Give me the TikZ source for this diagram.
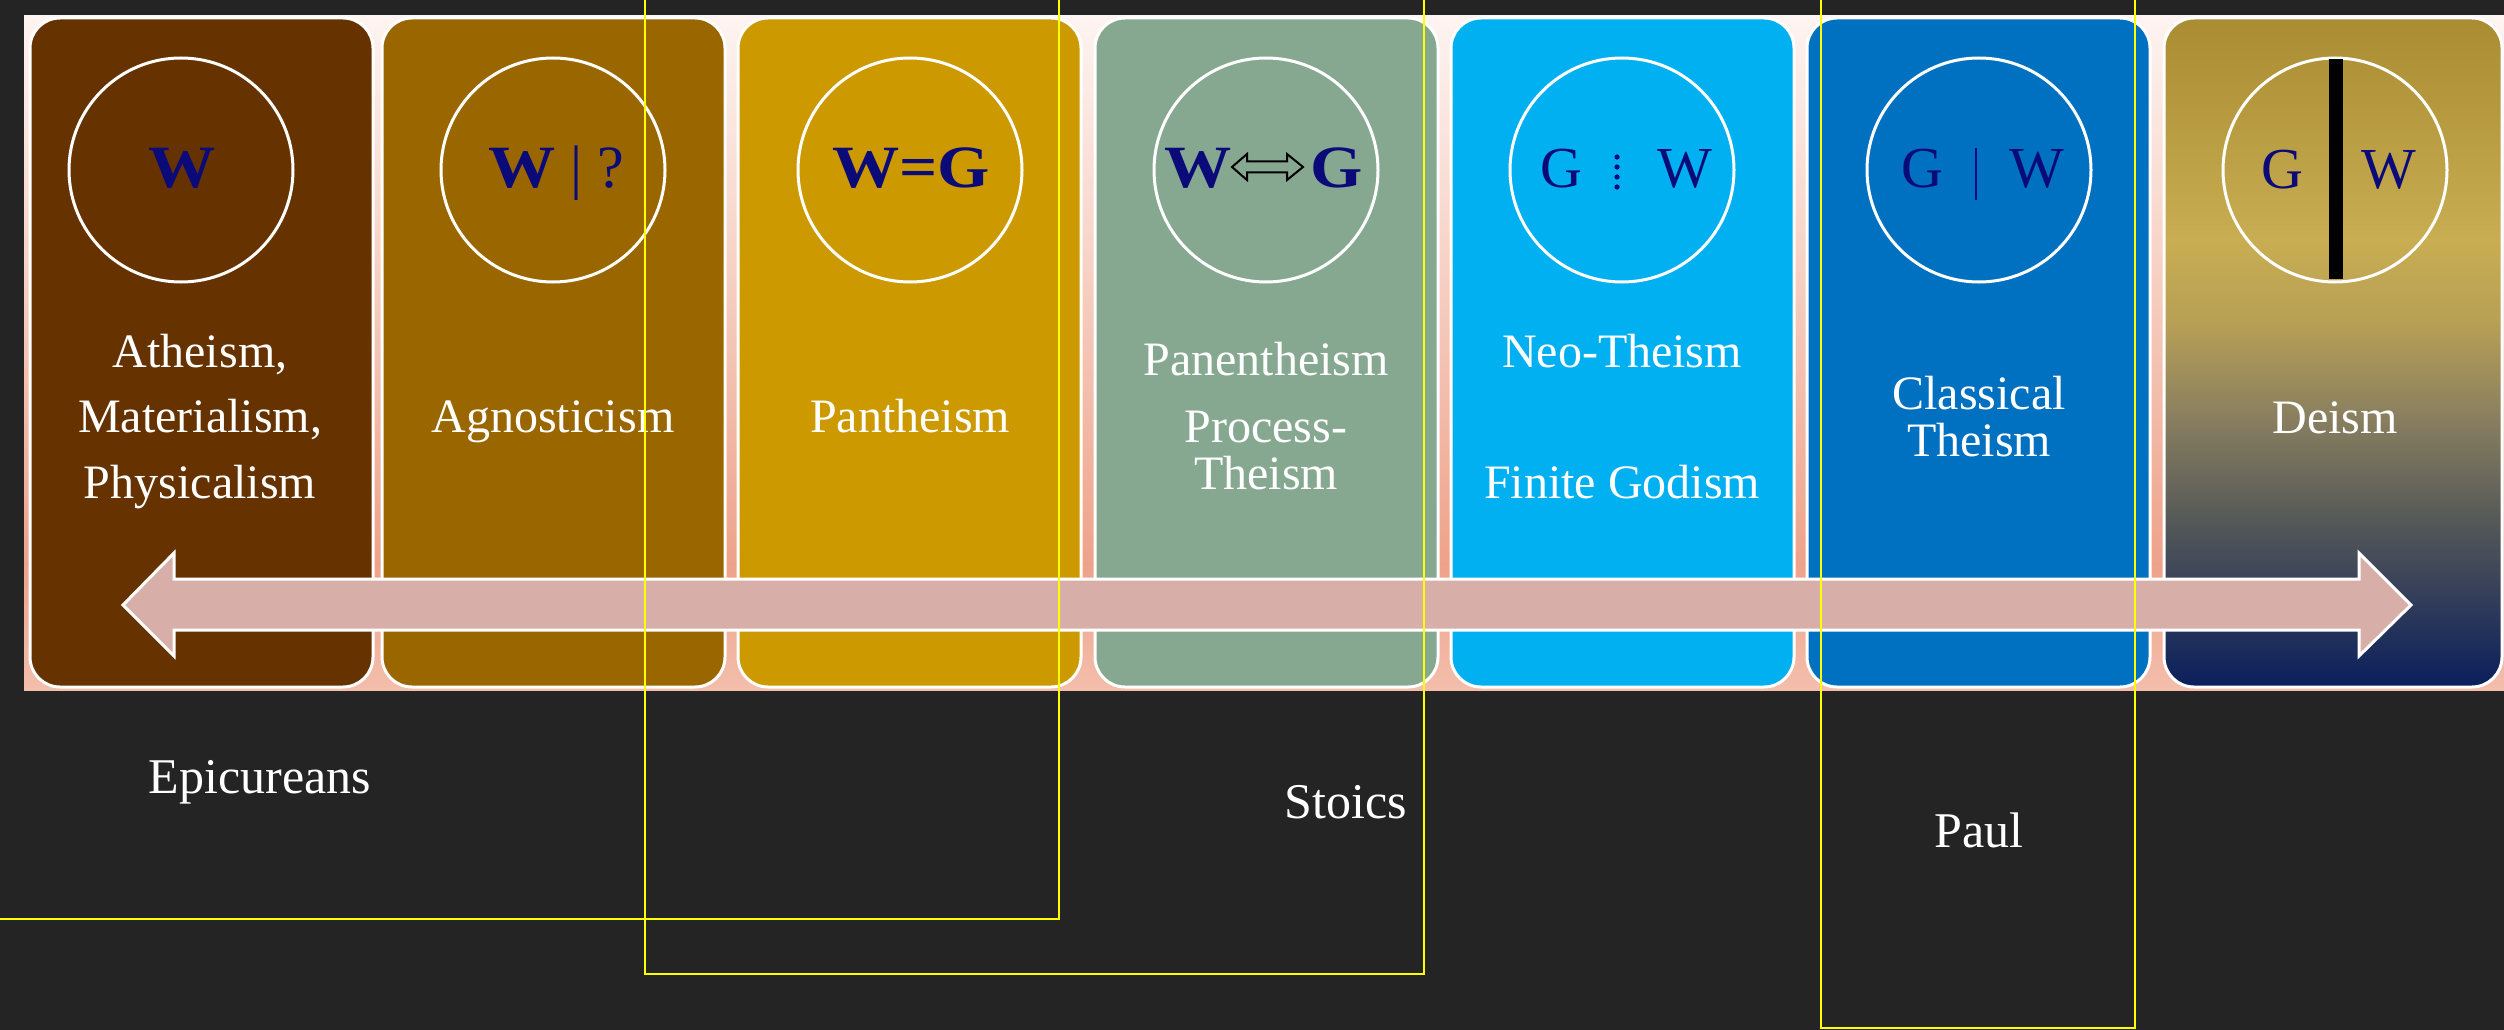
\documentclass[tikz,border=0pt]{standalone}
\usepackage{fontspec}
\setmainfont{Liberation Serif}
% palette
\definecolor{bgdark}{RGB}{36,36,36}
\definecolor{cAth}{RGB}{102,51,0}
\definecolor{cAgn}{RGB}{153,102,0}
\definecolor{cPan}{RGB}{204,153,0}
\definecolor{cPen}{RGB}{134,168,144}
\definecolor{cNeo}{RGB}{0,176,240}
\definecolor{cCla}{RGB}{0,112,192}
\definecolor{navyink}{RGB}{10,10,120}
\definecolor{axisfill}{RGB}{216,175,168}
\definecolor{hlyellow}{RGB}{255,255,0}
\definecolor{bandA}{RGB}{254,244,241}
\definecolor{bandB}{RGB}{247,212,200}
\definecolor{bandC}{RGB}{238,162,138}
\definecolor{bandD}{RGB}{243,190,172}
\definecolor{dA}{RGB}{170,140,50}
\definecolor{dB}{RGB}{200,173,82}
\definecolor{dC}{RGB}{184,160,85}
\definecolor{dD}{RGB}{138,128,96}
\definecolor{dE}{RGB}{90,92,88}
\definecolor{dF}{RGB}{46,58,90}
\definecolor{dG}{RGB}{10,31,92}
% wide bold letter used inside the rings
\newcommand{\wideb}[1]{\scalebox{1.12}[1]{\bfseries #1}}
\begin{document}
\begin{tikzpicture}[x=1pt,y=-1pt,
  box/.style={rectangle, rounded corners=30pt, draw=white, line width=3pt,
    minimum width=343pt, minimum height=669pt, inner sep=0pt},
  ring/.style={circle, draw=white, line width=3pt, minimum size=224pt, inner sep=0pt},
  lbl/.style={text=white, font=\fontsize{48}{58}\selectfont, anchor=base, inner sep=0pt},
  era/.style={text=white, font=\fontsize{50}{60}\selectfont, anchor=base, inner sep=0pt},
  symb/.style={text=navyink, font=\fontsize{60}{60}\selectfont, anchor=base, inner sep=0pt},
  symr/.style={text=navyink, font=\fontsize{58}{58}\selectfont, anchor=base, inner sep=0pt},
  hl/.style={draw=hlyellow, line width=2.8pt}]

% backdrop
\fill[bgdark] (0,0) rectangle (2504,1030);
\useasboundingbox (0,0) rectangle (2504,1030);

% pink band behind the columns
\shade[top color=bandA, bottom color=bandB] (24,16) rectangle (2504,250);
\shade[top color=bandB, bottom color=bandC] (24,249) rectangle (2504,565);
\shade[top color=bandC, bottom color=bandD] (24,564) rectangle (2504,690);

% columns
\node[box, fill=cAth] (b1) at (201.5,352.5) {};
\node[box, fill=cAgn] (b2) at (553.5,352.5) {};
\node[box, fill=cPan] (b3) at (909.5,352.5) {};
\node[box, fill=cPen] (b4) at (1266.5,352.5) {};
\node[box, fill=cNeo] (b5) at (1622.5,352.5) {};
\node[box, fill=cCla] (b6) at (1978.5,352.5) {};
\begin{scope}
  \clip[rounded corners=30pt] (2164,18) rectangle (2502,687);
  \shade[top color=dA, bottom color=dB] (2164,18) rectangle (2502,241);
  \shade[top color=dB, bottom color=dC] (2164,240) rectangle (2502,321);
  \shade[top color=dC, bottom color=dD] (2164,320) rectangle (2502,416);
  \shade[top color=dD, bottom color=dE] (2164,415) rectangle (2502,512);
  \shade[top color=dE, bottom color=dF] (2164,511) rectangle (2502,608);
  \shade[top color=dF, bottom color=dG] (2164,607) rectangle (2502,687);
\end{scope}
\node[box, minimum width=338pt] (b7) at (2333,352.5) {};

% rings
\node[ring] (r1) at (181,170) {};
\node[ring] (r2) at (553,170) {};
\node[ring] (r3) at (910,170) {};
\node[ring] (r4) at (1266,170) {};
\node[ring] (r5) at (1622,170) {};
\node[ring] (r6) at (1979,170) {};
\node[ring] (r7) at (2335,170) {};

% ring symbols
\node[symb] (s1) at (182,188) {\wideb{W}};
\node[symb] (s2) at (556,188) {\wideb{W} | ?};
\node[symb] (s3) at (911,188) {\wideb{W=G}};
\node[symb] (s4w) at (1198,188) {\wideb{W}};
\node[symb] (s4g) at (1337,188) {\wideb{G}};
\draw[black, line width=2pt]
  (1232,167) -- (1247,154) -- (1247,161.5) -- (1287,161.5) -- (1287,154) -- (1303,167)
  -- (1287,180) -- (1287,172.5) -- (1247,172.5) -- (1247,180) -- cycle;
\node[symr] (s5g) at (1561,188) {G};
\node[symr] (s5w) at (1685,188) {W};
\foreach \yy in {157,167,177,187}
  \fill[navyink] (1617,\yy) circle (2.6pt);
\node[symr] (s6g) at (1922,188) {G};
\node[symr] (s6w) at (2037,188) {W};
\draw[navyink, line width=2.5pt] (1976,148) -- (1976,200);
\node[symr] (s7g) at (2282,189) {G};
\node[symr] (s7w) at (2389,189) {W};
\fill[black] (2329,59) rectangle (2343,279);

% column captions
\node[lbl] (t1a) at (200,367) {Atheism,};
\node[lbl] (t1b) at (200,432) {Materialism,};
\node[lbl] (t1c) at (200,498) {Physicalism};
\node[lbl] (t2) at (553,432) {Agnosticism};
\node[lbl] (t3) at (910,432) {Pantheism};
\node[lbl] (t4a) at (1266,375) {Panentheism};
\node[lbl] (t4b) at (1266,442) {Process-};
\node[lbl] (t4c) at (1266,489) {Theism};
\node[lbl] (t5a) at (1622,367) {Neo-Theism};
\node[lbl] (t5b) at (1622,498) {Finite Godism};
\node[lbl] (t6a) at (1979,409) {Classical};
\node[lbl] (t6b) at (1979,456) {Theism};
\node[lbl] (t7) at (2335,433) {Deism};

% two-headed axis across the columns
\draw[white, line width=3pt, fill=axisfill, line join=miter]
  (123,605) -- (174,553) -- (174,579) -- (2359,579) -- (2359,553) -- (2411,605)
  -- (2359,656) -- (2359,630) -- (174,630) -- (174,656) -- cycle;

% schools below
\node[era] (e1) at (260,793) {Epicureans};
\node[era] (e2) at (1346,818) {Stoics};
\node[era] (e3) at (1979,847) {Paul};

% highlight frames
\draw[hl] (1059,-5) -- (1059,919) -- (-5,919);
\draw[hl] (645,-5) -- (645,974) -- (1424,974) -- (1424,-5);
\draw[hl] (1821,-5) -- (1821,1028) -- (2135,1028) -- (2135,-5);
\end{tikzpicture}
\end{document}
